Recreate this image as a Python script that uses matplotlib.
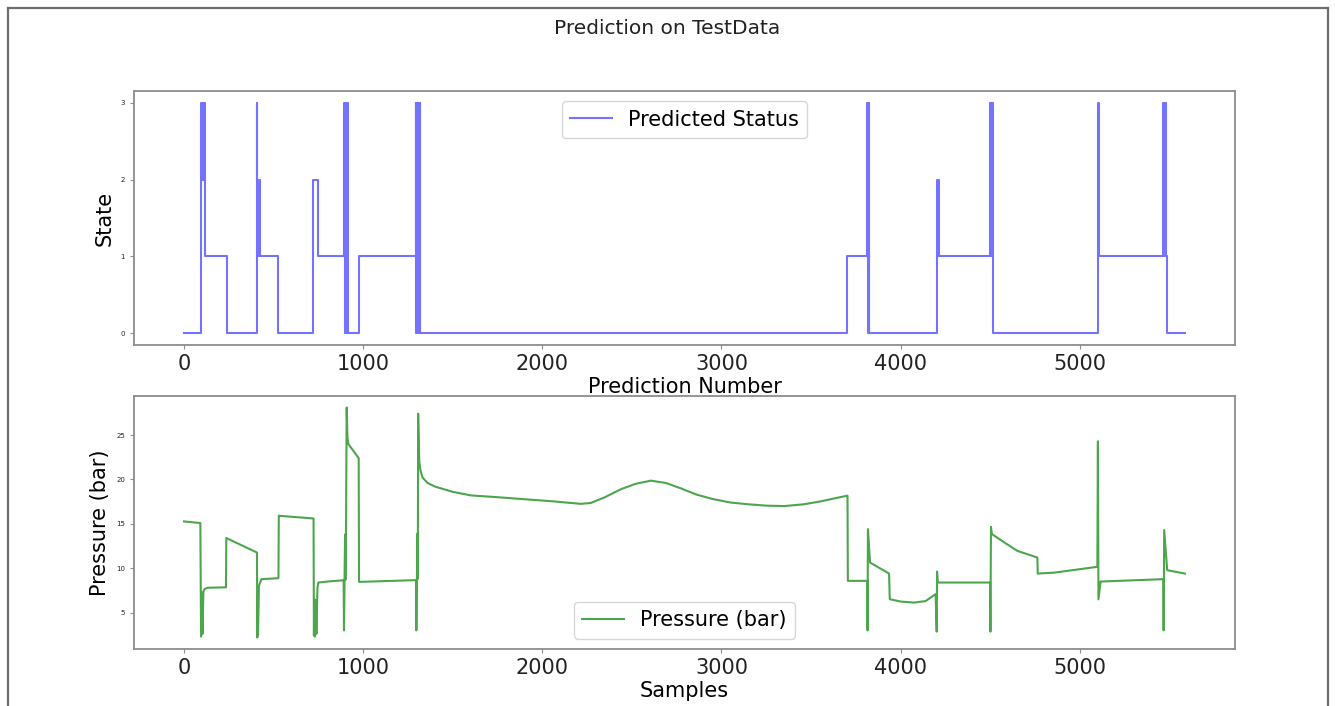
# plot.py
# Two stacked panels: predicted state (step trace) on top, pressure below.

import matplotlib
matplotlib.use("Agg")
import matplotlib.pyplot as plt
from matplotlib.lines import Line2D


# ── Data ──────────────────────────────────────────────────────────────────────

# Predicted state as step breakpoints: the value holds until the next sample.
# The short runs of alternating values are the dense "flicker" bands.
state_x = [0, 95, 97, 99, 101, 103, 105, 107, 109, 111, 113, 115, 240,
           407, 409, 411, 414, 417, 420, 424, 527,
           718, 750,
           895, 897, 899, 901, 903, 905, 907, 909, 911, 913, 915, 917, 978,
           1295, 1297, 1299, 1301, 1303, 1305, 1307, 1309, 1311, 1313, 1315,
           1317, 1320,
           3704,
           3815, 3817, 3819, 3821, 3823, 3825, 3828,
           4202, 4204, 4206, 4208, 4210, 4213,
           4500, 4503, 4506, 4509, 4512, 4515,
           5104, 5107,
           5467, 5470, 5473, 5476, 5479, 5482, 5485, 5588]
state_y = [0, 2, 3, 2, 3, 2, 3, 2, 3, 2, 3, 1, 0,
           3, 2, 1, 2, 1, 2, 1, 0,
           2, 1,
           3, 2, 3, 0, 3, 2, 3, 0, 3, 2, 3, 0, 1,
           3, 0, 3, 0, 3, 0, 3, 0, 3, 0, 3,
           0, 0,
           1,
           3, 0, 3, 0, 3, 0, 0,
           2, 1, 2, 1, 2, 1,
           3, 1, 3, 1, 3, 0,
           3, 1,
           3, 1, 3, 1, 3, 1, 0, 0]

# Pressure trace (bar), breakpoints along the sample axis
pressure_x = [0, 91, 95, 97, 99, 101, 103, 108, 114, 130, 234, 236,
              407, 409, 411, 413, 418, 432, 527, 529,
              723, 725, 728, 731, 735, 739, 745, 750, 800, 891,
              893, 896, 899, 901, 904, 908, 912, 917, 975, 977,
              1295, 1297, 1300, 1303, 1305, 1307, 1313, 1320, 1332, 1360,
              1400, 1500, 1602, 1750, 1881, 2050, 2215, 2271, 2350, 2439,
              2520, 2606, 2690, 2773, 2860, 2950, 3050, 3150, 3250, 3350,
              3460, 3560, 3650, 3704, 3706, 3815, 3816, 3818, 3830, 3936,
              3940, 4000, 4075, 4140, 4196, 4202, 4204, 4208, 4500, 4502,
              4505, 4510, 4580, 4652, 4764, 4766, 4857, 5099, 5102, 5105,
              5117, 5467, 5469, 5472, 5489, 5588]
pressure_y = [15.27, 15.09, 2.3, 7.3, 3.0, 7.0, 2.6, 7.4, 7.64, 7.8, 7.85, 13.4,
              11.77, 2.2, 7.0, 2.5, 8.0, 8.77, 8.88, 15.91,
              15.6, 2.4, 6.5, 2.3, 6.4, 2.6, 7.8, 8.39, 8.5, 8.65,
              3.0, 8.6, 13.8, 8.7, 13.5, 28.1, 24.8, 24.0, 22.4, 8.46,
              8.66, 3.0, 8.7, 13.9, 8.8, 27.4, 22.1, 21.0, 20.2, 19.6,
              19.2, 18.6, 18.2, 18.0, 17.8, 17.55, 17.25, 17.35, 18.0, 18.9,
              19.5, 19.86, 19.6, 19.0, 18.3, 17.8, 17.4, 17.2, 17.05, 17.0,
              17.2, 17.55, 17.95, 18.17, 8.58, 8.58, 3.0, 14.4, 10.64, 9.4,
              6.51, 6.25, 6.13, 6.3, 7.08, 2.86, 9.63, 8.39, 8.39, 2.86,
              14.67, 13.85, 12.9, 11.96, 11.2, 9.4, 9.5, 10.16, 24.3, 6.5,
              8.5, 8.77, 3.0, 14.3, 9.78, 9.4]

x_ticks = [0, 1000, 2000, 3000, 4000, 5000]
state_ticks = [0, 1, 2, 3]
pressure_ticks = [5, 10, 15, 20, 25]


# ── Figure ────────────────────────────────────────────────────────────────────

W, H = 1335, 706
fig = plt.figure(figsize=(W / 100, H / 100), dpi=100)
fig.patch.set_facecolor("white")

SPINE = "#8c8c8c"


def _style(ax):
    for s in ax.spines.values():
        s.set_color(SPINE)
        s.set_linewidth(1.3)
    ax.tick_params(axis="x", labelsize=15, colors=SPINE, labelcolor="#222222",
                   length=3, width=0.8)
    ax.tick_params(axis="y", labelsize=5, colors=SPINE, labelcolor="#222222",
                   length=3, width=0.8)
    ax.set_xticks(x_ticks)


# top panel: predicted state
ax1 = fig.add_axes([134 / W, 1 - 345 / H, 1101 / W, 254 / H])
ax1.plot(state_x, state_y, drawstyle="steps-post", color="blue",
         alpha=0.55, lw=1.5, label="Predicted Status")
_style(ax1)
ax1.set_yticks(state_ticks)
ax1.set_ylabel("State", fontsize=15)
# sits low enough to touch the lower panel, as in the original
ax1.set_xlabel("Prediction Number", fontsize=15, labelpad=2)
ax1.legend(loc="upper center", fontsize=15)

# bottom panel: pressure
ax2 = fig.add_axes([134 / W, 1 - 649 / H, 1101 / W, 253 / H])
ax2.plot(pressure_x, pressure_y, color="green", alpha=0.7, lw=1.5,
         label="Pressure (bar)")
_style(ax2)
ax2.set_yticks(pressure_ticks)
ax2.set_ylabel("Pressure (bar)", fontsize=15)
ax2.set_xlabel("Samples", fontsize=15, labelpad=2)
ax2.legend(loc="lower center", fontsize=15)

fig.text(0.5, 1 - 28 / H, "Prediction on TestData", ha="center",
         va="center", fontsize=14.5, color="#222222")

# grey frame around the screenshot (left, top, right; bottom is cut off)
frame = dict(color="#6e6e6e", lw=1.6, transform=fig.transFigure)
fig.add_artist(Line2D([8 / W, 8 / W], [0, 1 - 8 / H], **frame))
fig.add_artist(Line2D([8 / W, 1328 / W], [1 - 8 / H, 1 - 8 / H], **frame))
fig.add_artist(Line2D([1328 / W, 1328 / W], [0, 1 - 8 / H], **frame))

fig.savefig("out.png", dpi=100)
